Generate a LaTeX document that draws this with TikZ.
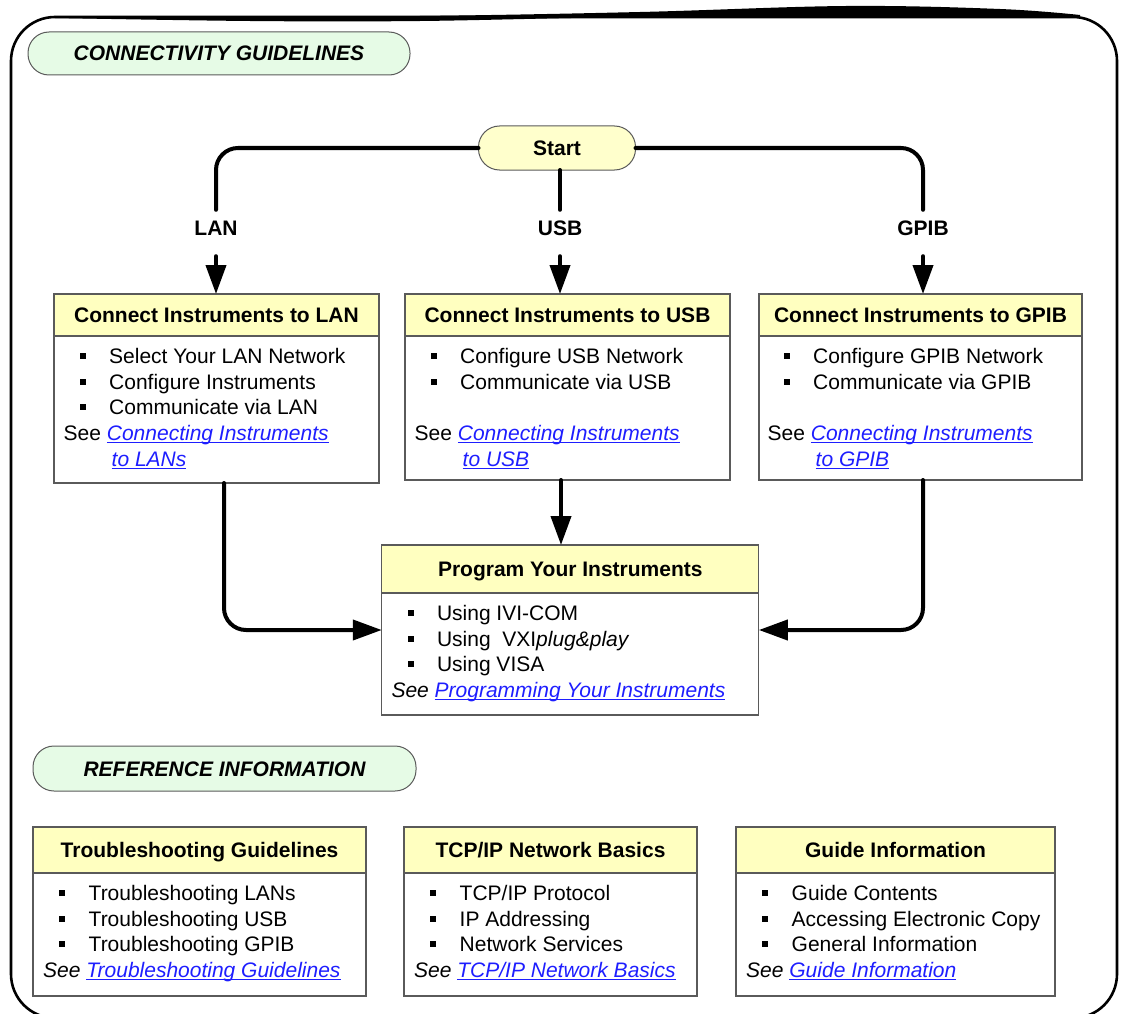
\documentclass[tikz,border=0pt]{standalone}
\usepackage{fontspec}
\setmainfont{Liberation Sans}
\usetikzlibrary{positioning,arrows.meta}

\definecolor{hdyellow}{HTML}{FFFFC0}
\definecolor{startyellow}{HTML}{FFFFCC}
\definecolor{pillgreen}{HTML}{E6FBE6}
\definecolor{boxgray}{HTML}{5A5A5A}
\definecolor{linkblue}{HTML}{1E1EFF}

\newcommand\bigsz{\fontsize{21}{25.6}\selectfont}
\newcommand\bul{\strut\hspace*{16pt}\rule[4.5pt]{6pt}{6pt}\hspace*{23.5pt}}
\newsavebox\lnkbox
\newcommand\lnk[1]{\sbox\lnkbox{\color{linkblue}\itshape #1}{\color{linkblue}\rlap{\rule[-2.8pt]{\wd\lnkbox}{1.1pt}}}\usebox\lnkbox}

\tikzset{
  pill/.style={draw=boxgray, line width=1pt, rounded corners=21pt, fill=pillgreen, font=\bigsz\bfseries\itshape, text height=15pt, text depth=0pt, outer sep=0pt},
  startpill/.style={pill, fill=startyellow, font=\bigsz\bfseries},
  box/.style={draw=boxgray, line width=1.3pt, fill=white, outer sep=0pt, inner sep=0pt},
  hd/.style={box, fill=hdyellow, font=\bigsz\bfseries, text height=15pt, text depth=0pt},
  txt/.style={font=\bigsz, align=left, inner sep=0pt},
  lbl/.style={font=\bigsz\bfseries, text height=15pt, text depth=0pt, inner xsep=0pt, inner ysep=10.5pt},
  wire/.style={line width=4pt, line cap=round, rounded corners=22pt},
  arr/.style={wire, -{Triangle[length=29pt,width=20pt]}},
}

\begin{document}
\begin{tikzpicture}[x=1pt,y=-1pt]
\useasboundingbox (0,0) rectangle (1124,1014);

% outer frame
\draw[line width=2.6pt, rounded corners=44pt] (11,17) rectangle (1117,1018);
\fill plot[smooth, tension=0.6] coordinates {(55,16) (200,17) (420,16) (640,12) (846,6) (1000,9) (1080,15)}
  -- plot[smooth, tension=0.6] coordinates {(1080,17) (900,17) (640,17) (420,21) (250,21) (55,18)} -- cycle;

% section titles
\node[pill, minimum width=382pt, minimum height=43pt] (conn) at (219,53.5) {CONNECTIVITY GUIDELINES};
\node[pill, minimum width=383pt, minimum height=45pt] (refinfo) at (224.5,768.5) {REFERENCE INFORMATION};

% start and branches
\node[startpill, minimum width=157pt, minimum height=44pt] (start) at (557,148) {Start};
\node[lbl] (lanlbl) at (216,228) {LAN};
\node[lbl] (usblbl) at (560,228) {USB};
\node[lbl] (gpiblbl) at (923,228) {GPIB};

% LAN box
\node[box, minimum width=325pt, minimum height=189pt] (lan) at (216.5,388.5) {};
\node[hd, minimum width=325pt, minimum height=42pt, below=0pt of lan.north] (lanhd) {Connect Instruments to LAN};
\node[txt, below right=9.5pt and 9.5pt of lanhd.south west] (lantxt) {\bul Select Your LAN Network\\
\bul Configure Instruments\\
\bul Communicate via LAN\\
See \lnk{Connecting Instruments}\\
\hspace*{48pt}\lnk{to LANs}};

% USB box
\node[box, minimum width=325pt, minimum height=186pt] (usb) at (567.5,387) {};
\node[hd, minimum width=325pt, minimum height=42pt, below=0pt of usb.north] (usbhd) {Connect Instruments to USB};
\node[txt, below right=9.5pt and 9.5pt of usbhd.south west] (usbtxt) {\bul Configure USB Network\\
\bul Communicate via USB\\
\mbox{}\\
See \lnk{Connecting Instruments}\\
\hspace*{48pt}\lnk{to USB}};

% GPIB box
\node[box, minimum width=323pt, minimum height=186pt] (gpib) at (920.5,387) {};
\node[hd, minimum width=323pt, minimum height=42pt, below=0pt of gpib.north] (gpibhd) {Connect Instruments to GPIB};
\node[txt, below right=9.5pt and 8.5pt of gpibhd.south west] (gpibtxt) {\bul Configure GPIB Network\\
\bul Communicate via GPIB\\
\mbox{}\\
See \lnk{Connecting Instruments}\\
\hspace*{48pt}\lnk{to GPIB}};

% program box
\node[box, minimum width=377pt, minimum height=170pt] (prog) at (570.3,630) {};
\node[hd, minimum width=377pt, minimum height=48pt, below=0pt of prog.north] (proghd) {Program Your Instruments};
\node[txt, below right=9.5pt and 9.5pt of proghd.south west] (progtxt) {\bul Using IVI-COM\\
\bul Using\ \ VXI\textit{plug\&play}\\
\bul Using VISA\\
\textit{See} \lnk{Programming Your Instruments}};

% reference boxes
\node[box, minimum width=333pt, minimum height=169pt] (trbl) at (199.5,911.5) {};
\node[hd, minimum width=333pt, minimum height=46pt, below=0pt of trbl.north] (trblhd) {Troubleshooting Guidelines};
\node[txt, below right=9.5pt and 10pt of trblhd.south west] (trbltxt) {\bul Troubleshooting LANs\\
\bul Troubleshooting USB\\
\bul Troubleshooting GPIB\\
\textit{See} \lnk{Troubleshooting Guidelines}};

\node[box, minimum width=293pt, minimum height=169pt] (tcp) at (550.5,911.5) {};
\node[hd, minimum width=293pt, minimum height=46pt, below=0pt of tcp.north] (tcphd) {TCP/IP Network Basics};
\node[txt, below right=9.5pt and 10pt of tcphd.south west] (tcptxt) {\bul TCP/IP Protocol\\
\bul IP Addressing\\
\bul Network Services\\
\textit{See} \lnk{TCP/IP Network Basics}};

\node[box, minimum width=319pt, minimum height=169pt] (guide) at (895.5,911.5) {};
\node[hd, minimum width=319pt, minimum height=46pt, below=0pt of guide.north] (guidehd) {Guide Information};
\node[txt, below right=9.5pt and 10pt of guidehd.south west] (guidetxt) {\bul Guide Contents\\
\bul Accessing Electronic Copy\\
\bul General Information\\
\textit{See} \lnk{Guide Information}};

% connectors
\draw[wire] (start.west) -| (lanlbl.north);
\draw[wire] (usblbl.north |- start.south) -- (usblbl.north);
\draw[wire] (start.east) -| (gpiblbl.north);
\draw[arr] ([yshift=-10pt]lanlbl.south) -- (lanlbl.south |- lan.north);
\draw[arr] ([yshift=-10pt]usblbl.south) -- (usblbl.south |- usb.north);
\draw[arr] ([yshift=-10pt]gpiblbl.south) -- (gpiblbl.south |- gpib.north);
\draw[arr] ([xshift=7.5pt]lan.south) |- (prog.west);
\draw[arr] ([xshift=-6.5pt]usb.south) -- ([xshift=-6.5pt]usb.south |- prog.north);
\draw[arr] ([xshift=2.5pt]gpib.south) |- (prog.east);
\end{tikzpicture}
\end{document}
